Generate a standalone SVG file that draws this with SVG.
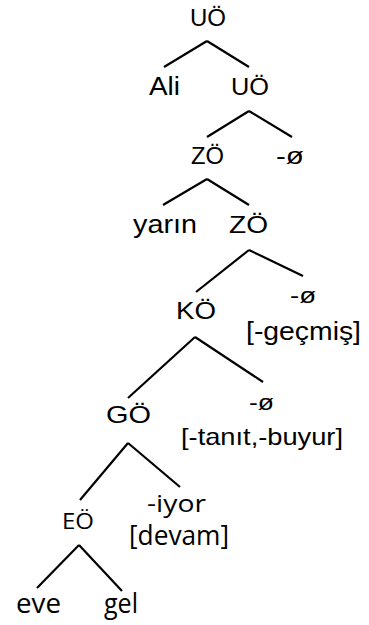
<svg xmlns="http://www.w3.org/2000/svg" width="369" height="625" viewBox="0 0 369 625">
<style>
.a{font-family:"Liberation Sans",Arial,sans-serif;fill:#000}
.c{font-family:"Open Sans","Liberation Sans",sans-serif;fill:#000}
#edges line{stroke:#000;stroke-width:2.2;stroke-linecap:butt}
</style>
<rect width="369" height="625" fill="#fff"/>
<g id="edges">
<line x1="207" y1="41" x2="164" y2="67"/><line x1="207" y1="41" x2="249" y2="67"/>
<line x1="249" y1="111" x2="207" y2="137"/><line x1="249" y1="111" x2="292" y2="137"/>
<line x1="207" y1="179" x2="163" y2="205"/><line x1="207" y1="179" x2="249" y2="205"/>
<line x1="249" y1="250" x2="196" y2="292"/><line x1="249" y1="250" x2="303" y2="276"/>
<line x1="195" y1="337" x2="128" y2="398"/><line x1="195" y1="337" x2="263" y2="382"/>
<line x1="128" y1="443" x2="80" y2="500"/><line x1="128" y1="443" x2="180" y2="487"/>
<line x1="79" y1="545" x2="37" y2="588"/><line x1="79" y1="545" x2="122" y2="591"/>
</g>
<g id="n-uo1"><text class="a" x="190" y="26" font-size="23" textLength="36" lengthAdjust="spacingAndGlyphs">UÖ</text></g>
<g id="n-ali"><text class="a" x="149" y="95" font-size="25" textLength="31" lengthAdjust="spacingAndGlyphs">Ali</text></g>
<g id="n-uo2"><text class="a" x="231" y="95" font-size="24" textLength="38" lengthAdjust="spacingAndGlyphs">UÖ</text></g>
<g id="n-zo1"><text class="a" x="191" y="164" font-size="24" textLength="33" lengthAdjust="spacingAndGlyphs">ZÖ</text></g>
<g id="n-null1"><text class="a" x="276" y="164" font-size="23" textLength="28" lengthAdjust="spacingAndGlyphs">-ø</text></g>
<g id="n-yarin"><text class="a" x="133" y="233" font-size="25" textLength="64" lengthAdjust="spacingAndGlyphs">yarın</text></g>
<g id="n-zo2"><text class="a" x="229" y="233" font-size="24" textLength="39" lengthAdjust="spacingAndGlyphs">ZÖ</text></g>
<g id="n-ko"><text class="a" x="176" y="319" font-size="24" textLength="40" lengthAdjust="spacingAndGlyphs">KÖ</text></g>
<g id="n-null2">
<text class="a" x="290" y="303" font-size="22" textLength="26" lengthAdjust="spacingAndGlyphs">-ø</text>
<text class="a" x="246" y="340" font-size="25" textLength="115" lengthAdjust="spacingAndGlyphs">[-geçmiş]</text>
</g>
<g id="n-go"><text class="a" x="106" y="423" font-size="24" textLength="45" lengthAdjust="spacingAndGlyphs">GÖ</text></g>
<g id="n-null3">
<text class="a" x="249" y="410" font-size="22" textLength="25" lengthAdjust="spacingAndGlyphs">-ø</text>
<text class="a" x="181" y="445" font-size="24" textLength="162" lengthAdjust="spacingAndGlyphs">[-tanıt,-buyur]</text>
</g>
<g id="n-eo"><text class="c" x="62" y="529" font-size="21" textLength="32" lengthAdjust="spacingAndGlyphs">EÖ</text></g>
<g id="n-iyor">
<text class="c" x="147" y="512" font-size="23" textLength="59" lengthAdjust="spacingAndGlyphs">-iyor</text>
<text class="c" x="129" y="545" font-size="27" textLength="100" lengthAdjust="spacingAndGlyphs">[devam]</text>
</g>
<g id="n-eve"><text class="c" x="16" y="613" font-size="27" textLength="45" lengthAdjust="spacingAndGlyphs">eve</text></g>
<g id="n-gel"><text class="c" x="104" y="613" font-size="27" textLength="34" lengthAdjust="spacingAndGlyphs">gel</text></g>
</svg>
